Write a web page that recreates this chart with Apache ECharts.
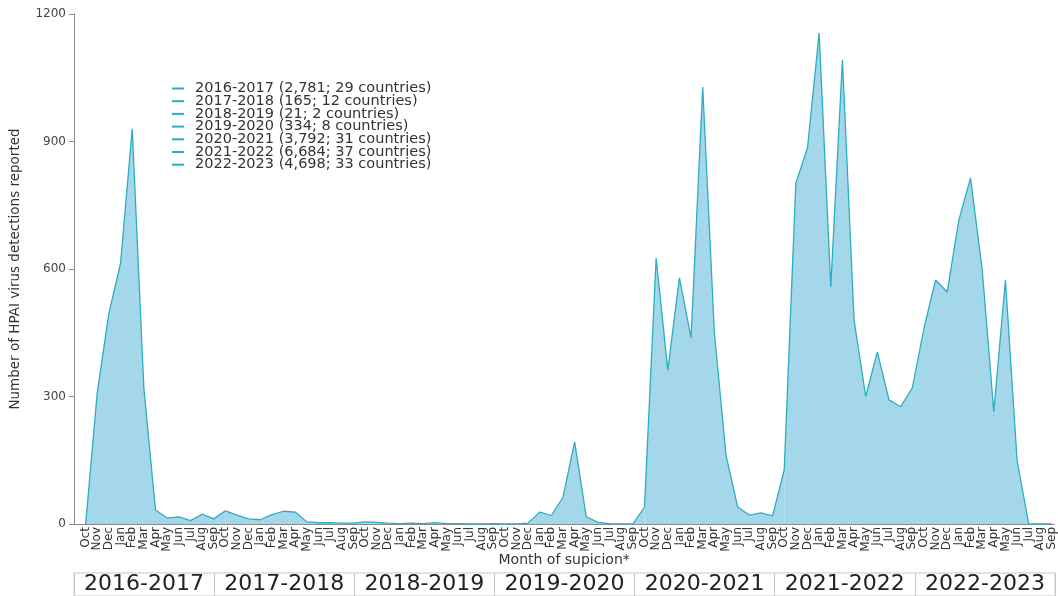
<!DOCTYPE html>
<html>
<head>
<meta charset="utf-8">
<script src="https://cdn.jsdelivr.net/npm/echarts@6/dist/echarts.min.js"></script>
<style>
html,body{margin:0;padding:0;background:#fff;}
#chart{width:1058px;height:596px;}
</style>
</head>
<body>
<div id="chart"></div>
<script>
// Month tick labels (season runs Oct -> Sep)
const monthLabels = ['Oct','Nov','Dec','Jan','Feb','Mar','Apr','May','Jun','Jul','Aug','Sep'];
// Seasons
const seasons = ['2016-2017','2017-2018','2018-2019','2019-2020','2020-2021','2021-2022','2022-2023'];
const legendLabels = [
  '2016-2017 (2,781; 29 countries)',
  '2017-2018 (165; 12 countries)',
  '2018-2019 (21; 2 countries)',
  '2019-2020 (334; 8 countries)',
  '2020-2021 (3,792; 31 countries)',
  '2021-2022 (6,684; 37 countries)',
  '2022-2023 (4,698; 33 countries)'
];
// Monthly HPAI detections per season (Oct..Sep)
const s2016_2017 = [0, 310, 496, 614, 930, 320, 33, 14, 17, 8, 23, 12];
const s2017_2018 = [31, 21, 12, 10, 22, 30, 28, 5, 3, 3, 2, 2];
const s2018_2019 = [5, 4, 2, 1, 2, 1, 3, 1, 1, 0, 0, 1];
const s2019_2020 = [0, 0, 2, 28, 20, 63, 193, 17, 4, 1, 0, 0];
const s2020_2021 = [40, 626, 362, 579, 438, 1028, 450, 162, 40, 21, 26, 19];
const s2021_2022 = [127, 802, 885, 1155, 558, 1092, 480, 300, 405, 292, 276, 320];
const s2022_2023 = [460, 574, 546, 715, 814, 600, 264, 574, 150, 0, 0, 0];

const seasonValues = [s2016_2017, s2017_2018, s2018_2019, s2019_2020, s2020_2021, s2021_2022, s2022_2023];
const nMonths = seasonValues.length * 12;

const LINE = '#2aaec2';
const FILL = '#a5d7ea';
const FONT = 'DejaVu Sans';

const series = seasonValues.map((vals, k) => {
  const data = vals.map((v, m) => [k * 12 + m, v]);
  if (k + 1 < seasonValues.length) data.push([(k + 1) * 12, seasonValues[k + 1][0]]);
  return {
    name: legendLabels[k],
    type: 'line',
    xAxisIndex: 0, yAxisIndex: 0,
    data: data,
    symbol: 'none',
    lineStyle: { color: LINE, width: 1.3 },
    itemStyle: { color: LINE },
    areaStyle: { color: FILL, opacity: 1 },
    animation: false
  };
});

const chart = echarts.init(document.getElementById('chart'), null, { renderer: 'canvas' });
chart.setOption({
  backgroundColor: '#fff',
  animation: false,
  textStyle: { fontFamily: FONT },
  legend: {
    orient: 'vertical',
    left: 167, top: 76,
    itemWidth: 12, itemHeight: 2, itemGap: -2.3,
    icon: 'rect',
    data: legendLabels,
    textStyle: { fontFamily: FONT, fontSize: 14.5, color: '#333', padding: [0, 0, 0, 6] }
  },
  grid: [
    { left: 74, right: 3, top: 14, bottom: 72, containLabel: false },
    { left: 74, right: 3, top: 573, bottom: 0, show: true, borderColor: '#c8c8c8', borderWidth: 1, backgroundColor: 'transparent' }
  ],
  xAxis: [
    {
      gridIndex: 0,
      type: 'value',
      min: -1, max: 83.2, interval: 1,
      axisLine: { show: true, onZero: false, lineStyle: { color: '#8a8a8a', width: 1 } },
      axisTick: { show: false },
      splitLine: { show: false },
      axisLabel: {
        show: true, rotate: 90, margin: 3, fontSize: 12, color: '#333', fontFamily: FONT,
        showMinLabel: true, showMaxLabel: true,
        formatter: function (v) {
          if (v < 0 || v >= nMonths || Math.abs(v - Math.round(v)) > 1e-6) return '';
          return monthLabels[Math.round(v) % 12];
        }
      },
      name: 'Month of supicion*',
      nameLocation: 'middle', nameGap: 29, nameMoveOverlap: false,
      nameTextStyle: { fontFamily: FONT, fontSize: 14, color: '#333' }
    },
    {
      gridIndex: 1,
      type: 'category',
      data: seasons,
      boundaryGap: true,
      axisLine: { show: false },
      axisTick: { show: false },
      splitLine: { show: true, interval: 0, lineStyle: { color: '#c8c8c8', width: 1 } },
      axisLabel: { inside: true, margin: 1, interval: 0, fontFamily: FONT, fontSize: 22, color: '#222' }
    }
  ],
  yAxis: [
    {
      gridIndex: 0,
      type: 'value',
      min: 0, max: 1200, interval: 300,
      axisLine: { show: true, onZero: false, lineStyle: { color: '#8a8a8a', width: 1 } },
      axisTick: { show: true, length: 5, lineStyle: { color: '#8a8a8a' } },
      splitLine: { show: false },
      axisLabel: { fontFamily: FONT, fontSize: 12, color: '#444', margin: 8, formatter: function (v) { return String(v); } },
      name: 'Number of HPAI virus detections reported',
      nameLocation: 'middle', nameGap: 52,
      nameTextStyle: { fontFamily: FONT, fontSize: 13.5, color: '#333' }
    },
    { gridIndex: 1, type: 'value', show: false, min: 0, max: 1 }
  ],
  series: series
});
</script>
</body>
</html>
